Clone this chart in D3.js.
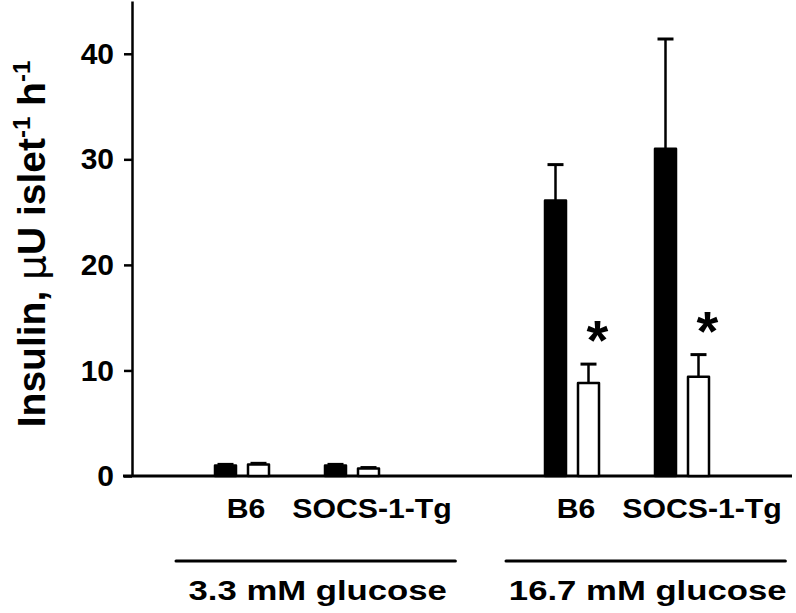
<!DOCTYPE html>
<html>
<head>
<meta charset="utf-8">
<script src="https://cdn.jsdelivr.net/npm/d3@7"></script>
<style>
  html, body { margin: 0; padding: 0; background: #fff; }
  svg { display: block; }
  text { font-family: "Liberation Sans", Arial, Helvetica, sans-serif; font-weight: bold; fill: #000; }
</style>
</head>
<body>
<svg id="chart" width="796" height="613"></svg>
<script>
// ---- data ----
const glucoseGroups = ["3.3 mM glucose", "16.7 mM glucose"];
const strains = ["B6", "SOCS-1-Tg"];
// order: [3.3 B6, 3.3 SOCS, 16.7 B6, 16.7 SOCS]
const slots = [1, 2, 4, 5];
const blackValues = [1.0, 1.0, 26.1, 31.0];
const blackErrors = [0.1, 0.1, 3.4, 10.4];
const whiteValues = [1.1, 0.7, 8.8, 9.4];
const whiteErrors = [0.1, 0.1, 1.8, 2.1];
const significant = [false, false, true, true];
const yTicks = [0, 10, 20, 30, 40];

// ---- layout ----
const svg = d3.select("#chart");
const x = d3.scaleLinear().domain([0, 6]).range([132, 792]);
const y = d3.scaleLinear().domain([0, 45]).range([476, 1]);
const barW = 21, pairOff = 16.5, capW = 16;

// y axis
const yAxis = d3.axisLeft(y).tickValues(yTicks).tickSize(8).tickSizeOuter(0).tickPadding(10).tickFormat(d3.format("d"));
const gy = svg.append("g").attr("transform", `translate(${x(0)},0)`).call(yAxis);
gy.select(".domain").attr("stroke", "#000").attr("stroke-width", 2.5);
gy.selectAll(".tick line").attr("stroke", "#000").attr("stroke-width", 2.5);
gy.selectAll(".tick text").style("font-size", "30px").style("font-family", '"Liberation Sans", Arial, sans-serif').style("font-weight", "bold").attr("fill", "#000");

// x baseline
svg.append("line").attr("x1", x(0) - 9).attr("x2", x(6)).attr("y1", y(0)).attr("y2", y(0))
  .attr("stroke", "#000").attr("stroke-width", 3);

// bars
const rows = slots.map((s, i) => ({ s, b: blackValues[i], be: blackErrors[i], w: whiteValues[i], we: whiteErrors[i], sig: significant[i] }));
const g = svg.append("g");
function drawBar(cx, v, e, fill) {
  g.append("line").attr("x1", cx).attr("x2", cx).attr("y1", y(v)).attr("y2", y(v + e))
    .attr("stroke", "#000").attr("stroke-width", 2.5);
  g.append("line").attr("x1", cx - capW / 2).attr("x2", cx + capW / 2).attr("y1", y(v + e)).attr("y2", y(v + e))
    .attr("stroke", "#000").attr("stroke-width", 3);
  g.append("rect").attr("x", cx - barW / 2).attr("y", y(v)).attr("width", barW).attr("height", y(0) - y(v))
    .attr("fill", fill).attr("stroke", "#000").attr("stroke-width", 2.5).attr("stroke-linejoin", "round");
}
rows.forEach(r => {
  drawBar(x(r.s) - pairOff, r.b, r.be, "#000");
  drawBar(x(r.s) + pairOff, r.w, r.we, "#fff");
  if (r.sig) {
    svg.append("text").attr("x", x(r.s) + pairOff + 9).attr("y", y(r.w + r.we) - 5)
      .attr("text-anchor", "middle").style("font-size", "56px").text("*");
  }
});

// strain labels (slightly wide lettering, as in the original)
const strainDx = [4, 20];
rows.forEach((r, i) => {
  svg.append("text").attr("transform", `translate(${x(r.s) + strainDx[i % 2]},518) scale(1.1,1)`)
    .attr("text-anchor", "middle").style("font-size", "27.5px").text(strains[i % 2]);
});

// group lines and labels
glucoseGroups.forEach((name, gi) => {
  const s0 = slots[gi * 2];
  const x1 = x(s0 - 0.6), x2 = x(s0 + 1.94);
  svg.append("line").attr("x1", x1).attr("x2", x2).attr("y1", 561).attr("y2", 561)
    .attr("stroke", "#000").attr("stroke-width", 3).attr("stroke-linecap", "round");
  svg.append("text").attr("transform", `translate(${(x1 + x2) / 2 + 2},600) scale(1.24,1)`)
    .attr("text-anchor", "middle").style("font-size", "28px").text(name);
});

// y axis label
const yl = svg.append("text").attr("transform", "translate(45,244) rotate(-90)")
  .attr("text-anchor", "middle").style("font-size", "39px");
yl.append("tspan").text("Insulin, ");
yl.append("tspan").style("font-family", '"DejaVu Sans", sans-serif').style("font-weight", "normal").text("μ");
yl.append("tspan").text("U islet");
yl.append("tspan").attr("dy", -15).style("font-size", "24px").text("-1");
yl.append("tspan").attr("dy", 15).text(" h");
yl.append("tspan").attr("dy", -15).style("font-size", "24px").text("-1");
</script>
</body>
</html>
